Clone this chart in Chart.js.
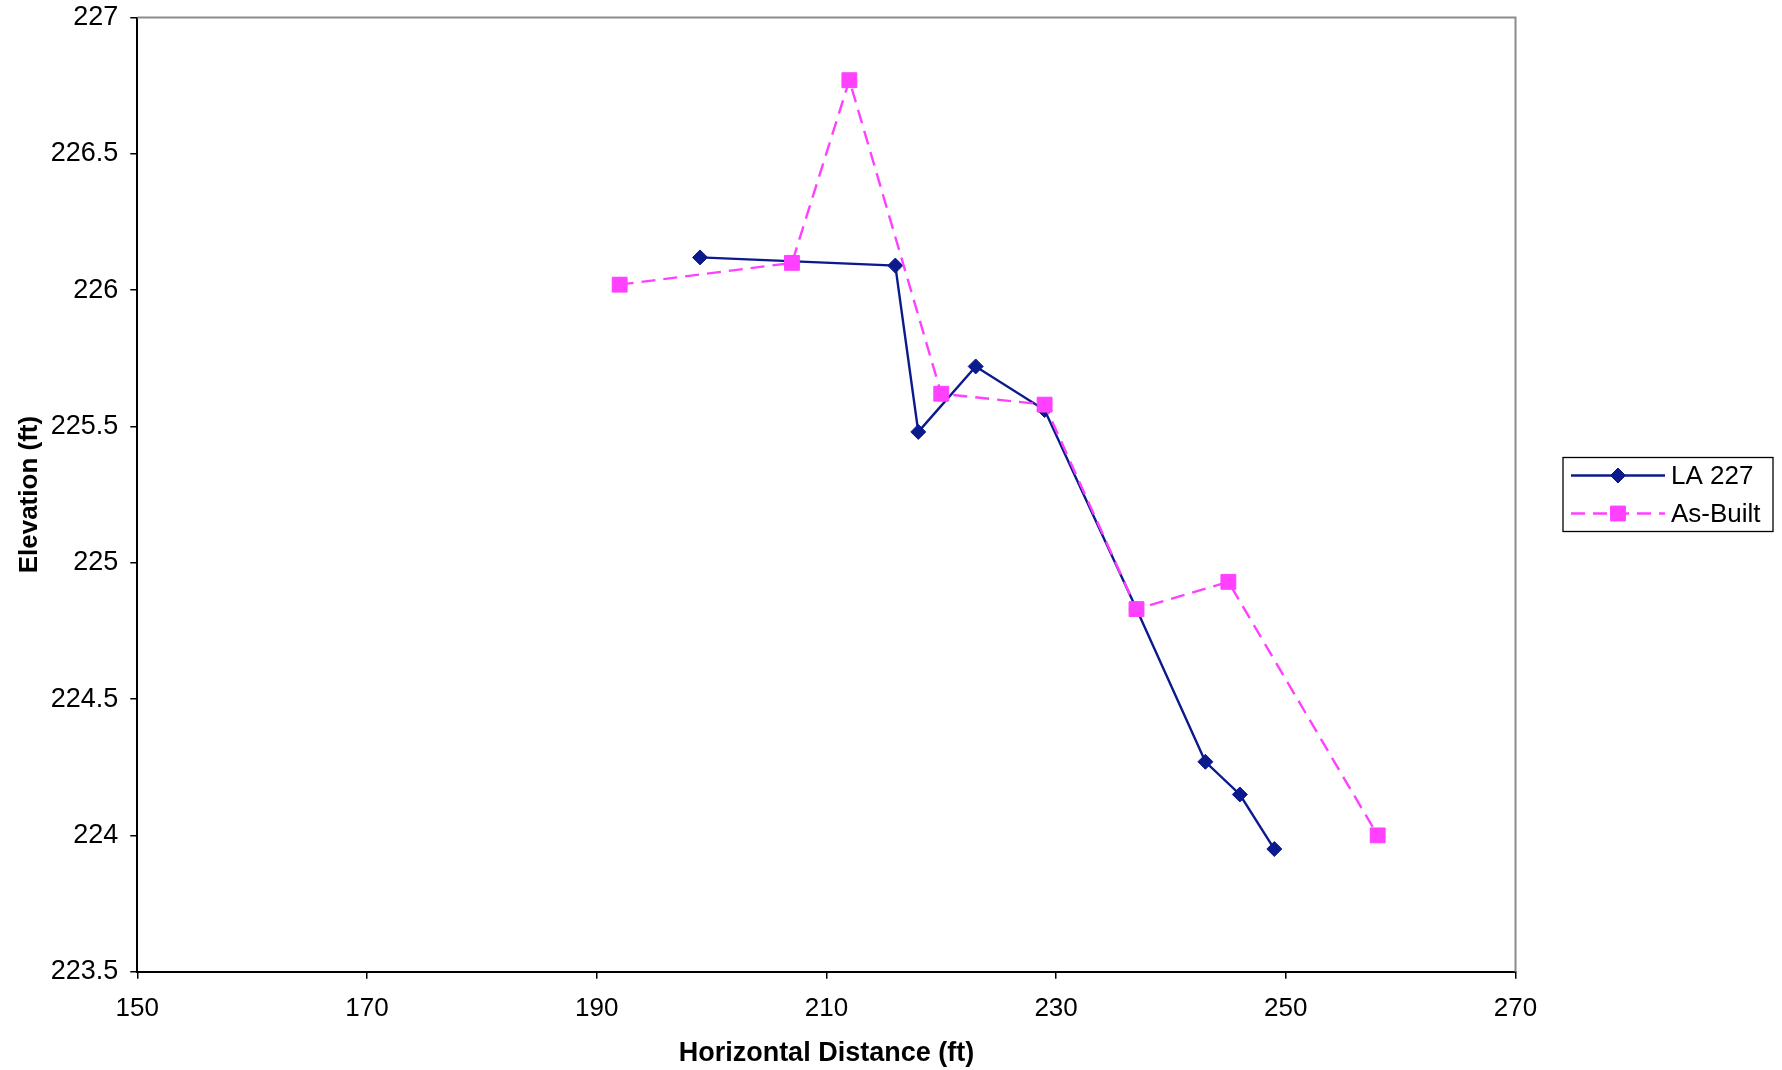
<!DOCTYPE html>
<html>
<head>
<meta charset="utf-8">
<script src="https://cdn.jsdelivr.net/npm/chart.js@4/dist/chart.umd.min.js"></script>
<style>
  html, body { margin: 0; padding: 0; background: #ffffff; }
  #wrap { width: 1782px; height: 1070px; }
</style>
</head>
<body>
<div id="wrap"><canvas id="c" width="1782" height="1070"></canvas></div>
<script>
// ---- Data ----
const la227X = [199, 216, 218, 223, 229, 237, 243, 246, 249];
const la227Y = [226.12, 226.09, 225.48, 225.72, 225.56, 224.83, 224.27, 224.15, 223.95];
const asBuiltX = [192, 207, 212, 220, 229, 237, 245, 258];
const asBuiltY = [226.02, 226.10, 226.77, 225.62, 225.58, 224.83, 224.93, 224.00];
const seriesNames = ['LA 227', 'As-Built'];
const xTickValues = [150, 170, 190, 210, 230, 250, 270];
const yTickValues = [223.5, 224, 224.5, 225, 225.5, 226, 226.5, 227];
const yTickLabels = ['223.5', '224', '224.5', '225', '225.5', '226', '226.5', '227'];
const xTitle = 'Horizontal Distance (ft)';
const yTitle = 'Elevation (ft)';

const FONT = '"Liberation Sans", Arial, sans-serif';
const BLUE = '#0B1A8C';
const PINK = '#FF40FF';

const toPts = (xs, ys) => xs.map((x, i) => ({ x: x, y: ys[i] }));

const frameAndLegend = {
  id: 'frameAndLegend',
  afterDraw(chart) {
    const ctx = chart.ctx;
    const a = chart.chartArea;
    ctx.save();
    // gray top & right border
    ctx.strokeStyle = '#8c8c8c';
    ctx.lineWidth = 2;
    ctx.beginPath();
    ctx.moveTo(a.left, a.top);
    ctx.lineTo(a.right, a.top);
    ctx.lineTo(a.right, a.bottom);
    ctx.stroke();

    // legend box
    const bx = 1563, by = 457.5, bw = 210, bh = 74;
    ctx.fillStyle = '#ffffff';
    ctx.fillRect(bx, by, bw, bh);
    ctx.strokeStyle = '#000000';
    ctx.lineWidth = 1.3;
    ctx.strokeRect(bx, by, bw, bh);

    const items = [
      { y: 475.5, color: BLUE, dash: [], style: 'rectRot', r: 7.5 },
      { y: 513.5, color: PINK, dash: [14, 8], style: 'rect', r: 10.5 }
    ];
    items.forEach((it, i) => {
      ctx.save();
      ctx.strokeStyle = it.color;
      ctx.lineWidth = 2.4;
      ctx.setLineDash(it.dash);
      ctx.beginPath();
      ctx.moveTo(1571, it.y);
      ctx.lineTo(1665, it.y);
      ctx.stroke();
      ctx.restore();
      ctx.fillStyle = it.color;
      ctx.strokeStyle = it.color;
      ctx.lineWidth = 1;
      Chart.helpers.drawPoint(ctx, { pointStyle: it.style, radius: it.r, borderWidth: 1, rotation: 0 }, 1618, it.y);
      ctx.fillStyle = '#000000';
      ctx.font = '26px ' + FONT;
      ctx.textBaseline = 'middle';
      ctx.textAlign = 'left';
      ctx.fillText(seriesNames[i], 1671, it.y + 1);
    });
    ctx.restore();
  }
};

new Chart(document.getElementById('c'), {
  type: 'scatter',
  data: {
    datasets: [
      {
        label: seriesNames[0],
        data: toPts(la227X, la227Y),
        showLine: true,
        borderColor: BLUE,
        backgroundColor: BLUE,
        borderWidth: 2.4,
        pointStyle: 'rectRot',
        pointRadius: 7.5,
        pointBorderWidth: 1,
        order: 1
      },
      {
        label: seriesNames[1],
        data: toPts(asBuiltX, asBuiltY),
        showLine: true,
        borderColor: PINK,
        backgroundColor: PINK,
        borderWidth: 2.4,
        borderDash: [14, 8],
        pointStyle: 'rect',
        pointRadius: 10.5,
        pointBorderWidth: 1,
        order: 0
      }
    ]
  },
  options: {
    responsive: false,
    animation: false,
    events: [],
    layout: { padding: { left: 0, top: 17.5, right: 266.5, bottom: 0 } },
    plugins: {
      legend: { display: false },
      tooltip: { enabled: false }
    },
    scales: {
      x: {
        type: 'linear',
        min: 150, max: 270,
        afterBuildTicks: (s) => { s.ticks = xTickValues.map(v => ({ value: v })); },
        afterFit: (s) => { s.height = 98.3; s.paddingLeft = 0; s.paddingRight = 0; },
        ticks: {
          color: '#000000',
          font: { family: FONT, size: 26 },
          padding: 15,
          maxRotation: 0,
          callback: (v) => String(v)
        },
        grid: { display: true, drawOnChartArea: false, drawTicks: true, tickLength: 7, color: '#000000', lineWidth: 1.5 },
        border: { display: true, color: '#000000', width: 2 },
        title: {
          display: true,
          text: xTitle,
          color: '#000000',
          font: { family: FONT, size: 27, weight: 'bold' },
          padding: { top: 9, bottom: 0 }
        }
      },
      y: {
        type: 'linear',
        min: 223.5, max: 227,
        afterBuildTicks: (s) => { s.ticks = yTickValues.map(v => ({ value: v })); },
        afterFit: (s) => { s.width = 137.3; s.paddingTop = 0; s.paddingBottom = 0; },
        ticks: {
          color: '#000000',
          font: { family: FONT, size: 27 },
          padding: 12,
          callback: (v) => { const i = yTickValues.indexOf(v); return i >= 0 ? yTickLabels[i] : ''; }
        },
        grid: { display: true, drawOnChartArea: false, drawTicks: true, tickLength: 7, color: '#000000', lineWidth: 1.5 },
        border: { display: true, color: '#000000', width: 2 },
        title: {
          display: true,
          text: yTitle,
          color: '#000000',
          font: { family: FONT, size: 26, weight: 'bold' },
          padding: { top: 14, bottom: 0 }
        }
      }
    }
  },
  plugins: [frameAndLegend]
});
</script>
</body>
</html>
